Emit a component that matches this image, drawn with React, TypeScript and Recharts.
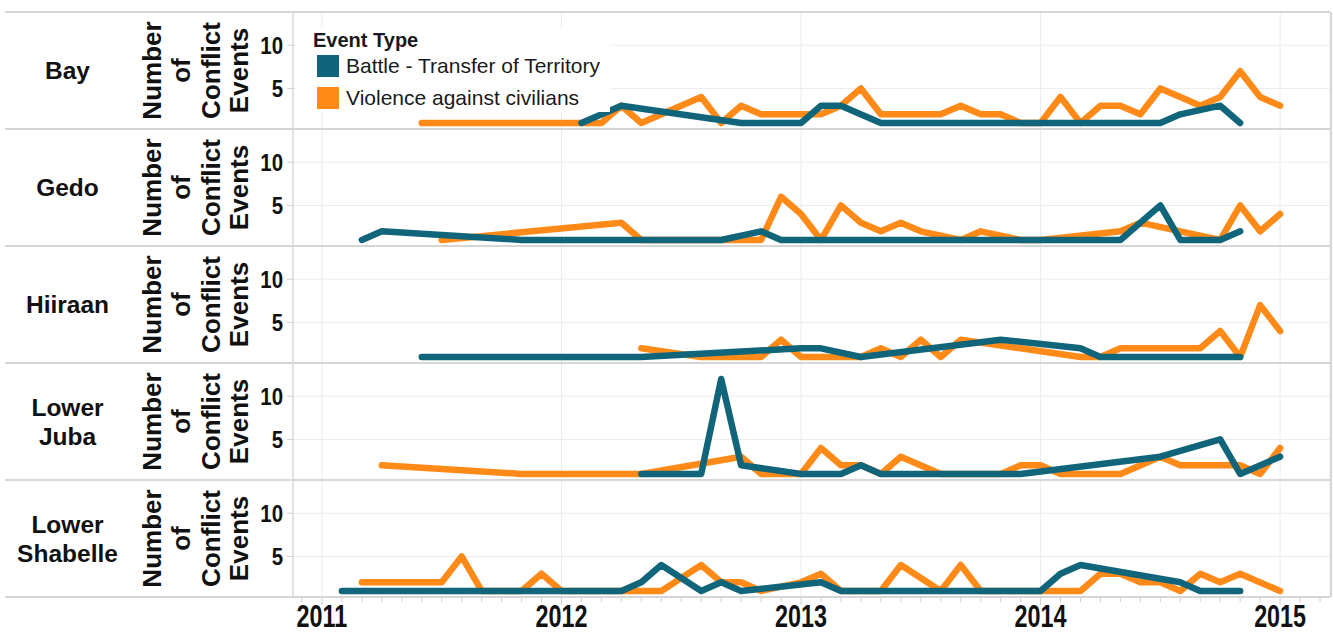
import React from 'react';
import { LineChart, Line, XAxis, YAxis, CartesianGrid } from 'recharts';

type Pt = [number, number];

// x = month index counted from Jan 2011 (0 = Jan 2011, 12 = Jan 2012 ...), y = number of events
const regions = ['Bay', 'Gedo', 'Hiiraan', 'Lower Juba', 'Lower Shabelle'];
const seriesNames = ['Battle - Transfer of Territory', 'Violence against civilians'];
const yearTicks = [0, 12, 24, 36, 48];
const yearLabels = ['2011', '2012', '2013', '2014', '2015'];
const monthTicks = Array.from({ length: 52 }, (_, i) => i - 1);
const countTicks = [5, 10];

const bayBattle: Pt[] = [
  [13, 1], [15, 3], [21, 1], [22, 1], [23, 1], [24, 1], [25, 3], [26, 3], [28, 1], [30, 1],
  [32, 1], [34, 1], [36, 1], [38, 1], [40, 1], [42, 1], [43, 2], [45, 3], [46, 1],
];
const bayViolence: Pt[] = [
  [5, 1], [7, 1], [9, 1], [11, 1], [13, 1], [14, 1], [15, 3], [16, 1], [19, 4], [20, 1],
  [21, 3], [22, 2], [23, 2], [24, 2], [25, 2], [26, 3], [27, 5], [28, 2], [29, 2], [30, 2],
  [31, 2], [32, 3], [33, 2], [34, 2], [35, 1], [36, 1], [37, 4], [38, 1], [39, 3], [40, 3],
  [41, 2], [42, 5], [43, 4], [44, 3], [45, 4], [46, 7], [47, 4], [48, 3],
];

const gedoBattle: Pt[] = [
  [2, 1], [3, 2], [10, 1], [12, 1], [14, 1], [16, 1], [17, 1], [18, 1], [19, 1], [20, 1],
  [22, 2], [23, 1], [24, 1], [26, 1], [28, 1], [30, 1], [32, 1], [34, 1], [36, 1], [38, 1],
  [40, 1], [42, 5], [43, 1], [44, 1], [45, 1], [46, 2],
];
const gedoViolence: Pt[] = [
  [6, 1], [15, 3], [16, 1], [18, 1], [20, 1], [22, 1], [23, 6], [24, 4], [25, 1], [26, 5],
  [27, 3], [28, 2], [29, 3], [30, 2], [32, 1], [33, 2], [35, 1], [36, 1], [40, 2], [41, 3],
  [43, 2], [45, 1], [46, 5], [47, 2], [48, 4],
];

const hiiraanBattle: Pt[] = [
  [5, 1], [6, 1], [8, 1], [10, 1], [12, 1], [14, 1], [16, 1], [24, 2], [25, 2], [27, 1],
  [34, 3], [38, 2], [39, 1], [40, 1], [42, 1], [44, 1], [46, 1],
];
const hiiraanViolence: Pt[] = [
  [16, 2], [19, 1], [20, 1], [22, 1], [23, 3], [24, 1], [25, 1], [27, 1], [28, 2], [29, 1],
  [30, 3], [31, 1], [32, 3], [35, 2], [38, 1], [39, 1], [40, 2], [41, 2], [42, 2], [43, 2],
  [44, 2], [45, 4], [46, 1], [47, 7], [48, 4],
];

const lowerJubaBattle: Pt[] = [
  [16, 1], [17, 1], [18, 1], [19, 1], [20, 12], [21, 2], [24, 1], [25, 1], [26, 1], [27, 2],
  [28, 1], [29, 1], [31, 1], [33, 1], [35, 1], [42, 3], [45, 5], [46, 1], [48, 3],
];
const lowerJubaViolence: Pt[] = [
  [3, 2], [10, 1], [12, 1], [14, 1], [16, 1], [21, 3], [22, 1], [24, 1], [25, 4], [26, 2],
  [27, 2], [28, 1], [29, 3], [31, 1], [32, 1], [34, 1], [35, 2], [36, 2], [37, 1], [38, 1],
  [40, 1], [42, 3], [43, 2], [44, 2], [45, 2], [46, 2], [47, 1], [48, 4],
];

const lowerShabelleBattle: Pt[] = [
  [1, 1], [3, 1], [5, 1], [7, 1], [9, 1], [11, 1], [13, 1], [15, 1], [16, 2], [17, 4],
  [19, 1], [20, 2], [21, 1], [25, 2], [26, 1], [28, 1], [30, 1], [32, 1], [34, 1], [36, 1],
  [37, 3], [38, 4], [43, 2], [44, 1], [45, 1], [46, 1],
];
const lowerShabelleViolence: Pt[] = [
  [2, 2], [4, 2], [6, 2], [7, 5], [8, 1], [10, 1], [11, 3], [12, 1], [14, 1], [17, 1],
  [19, 4], [20, 2], [21, 2], [22, 1], [24, 2], [25, 3], [26, 1], [28, 1], [29, 4], [31, 1],
  [32, 4], [33, 1], [35, 1], [38, 1], [39, 3], [40, 3], [41, 2], [42, 2], [43, 1], [44, 3],
  [45, 2], [46, 3], [48, 1],
];

const battleByRegion = [bayBattle, gedoBattle, hiiraanBattle, lowerJubaBattle, lowerShabelleBattle];
const violenceByRegion = [bayViolence, gedoViolence, hiiraanViolence, lowerJubaViolence, lowerShabelleViolence];

const TEAL = '#11657a';
const ORANGE = '#ff8a17';
const FONT = '"Liberation Sans", Arial, sans-serif';
const TOP = 12;
const PANEL_H = 117;
const AXIS_H = 38;
const SEP = '#d6d6d6';

const toRows = (pts: Pt[]) => pts.map(([m, v]) => ({ m, v }));

const CountTick = (props: any) => {
  const { x, y, payload } = props;
  return (
    <text
      transform={`translate(${x},${y + 1}) scale(0.85,1)`}
      textAnchor="end"
      dominantBaseline="central"
      fontSize={24}
      fontWeight="bold"
      fontFamily={FONT}
      fill="#111"
    >
      {payload.value}
    </text>
  );
};

const MonthTick = (props: any) => {
  const { x, y, payload } = props;
  const idx = yearTicks.indexOf(payload.value);
  const isYear = idx >= 0;
  return (
    <g>
      <line x1={x} x2={x} y1={y} y2={y + (isYear ? 8 : 5)} stroke="#cfcfcf" />
      {isYear && (
        <text
          transform={`translate(${x},${y + 30}) scale(0.73,1)`}
          textAnchor="middle"
          fontSize={32}
          fontWeight="bold"
          fontFamily={FONT}
          fill="#111"
        >
          {yearLabels[idx]}
        </text>
      )}
    </g>
  );
};

const Panel = ({ index }: { index: number }) => {
  const last = index === regions.length - 1;
  return (
    <LineChart
      width={1072}
      height={PANEL_H + (last ? AXIS_H : 0)}
      margin={{ top: 0, right: 2, bottom: 0, left: 0 }}
    >
      <CartesianGrid stroke="#ececec" />
      <XAxis
        dataKey="m"
        type="number"
        domain={[-1.45, 50.5]}
        allowDataOverflow
        ticks={yearTicks}
        height={0}
        hide
      />
      {last && (
        <XAxis
          xAxisId="months"
          dataKey="m"
          type="number"
          domain={[-1.45, 50.5]}
          allowDataOverflow
          ticks={monthTicks}
          interval={0}
          height={AXIS_H}
          tickSize={0}
          tickMargin={0}
          tickLine={false}
          axisLine={false}
          tick={<MonthTick />}
        />
      )}
      <YAxis
        type="number"
        domain={[0.3, 13.85]}
        allowDataOverflow
        ticks={countTicks}
        width={33}
        tickSize={6}
        tickMargin={4}
        axisLine={{ stroke: '#d0d0d0' }}
        tickLine={{ stroke: '#d0d0d0' }}
        tick={<CountTick />}
      />
      <Line
        data={toRows(violenceByRegion[index])}
        dataKey="v"
        type="linear"
        stroke={ORANGE}
        strokeWidth={6.5}
        strokeLinecap="round"
        strokeLinejoin="round"
        dot={false}
        activeDot={false}
        isAnimationActive={false}
      />
      <Line
        data={toRows(battleByRegion[index])}
        dataKey="v"
        type="linear"
        stroke={TEAL}
        strokeWidth={6.5}
        strokeLinecap="round"
        strokeLinejoin="round"
        dot={false}
        activeDot={false}
        isAnimationActive={false}
      />
    </LineChart>
  );
};

const titleLines = ['Number', 'of', 'Conflict', 'Events'];
const titleBaselines = [161, 190, 220, 248];

export default function App() {
  return (
    <div
      style={{
        position: 'absolute',
        left: 0,
        top: 0,
        width: 1333,
        height: 635,
        background: '#fff',
        fontFamily: FONT,
        overflow: 'hidden',
      }}
    >
      {regions.map((name, i) => {
        const top = TOP + i * PANEL_H;
        return (
          <React.Fragment key={name}>
            <div
              style={{
                position: 'absolute',
                left: 0,
                top,
                width: 135,
                height: PANEL_H,
                display: 'flex',
                alignItems: 'center',
                justifyContent: 'center',
                textAlign: 'center',
                fontWeight: 'bold',
                fontSize: 24.5,
                lineHeight: '29px',
                color: '#111',
              }}
            >
              {name.split(' ').map((w) => (
                <React.Fragment key={w}>
                  {w}
                  <br />
                </React.Fragment>
              ))}
            </div>
            <svg
              style={{ position: 'absolute', left: 0, top }}
              width={260}
              height={PANEL_H}
            >
              {titleLines.map((t, j) => (
                <text
                  key={t}
                  transform={`translate(${titleBaselines[j]},${PANEL_H / 2}) rotate(-90)`}
                  textAnchor="middle"
                  fontSize={26}
                  fontWeight="bold"
                  fontFamily={FONT}
                  fill="#111"
                >
                  {t}
                </text>
              ))}
            </svg>
            <div style={{ position: 'absolute', left: 260, top }}>
              <Panel index={i} />
            </div>
          </React.Fragment>
        );
      })}

      {Array.from({ length: regions.length + 1 }, (_, i) => (
        <div
          key={'sep' + i}
          style={{
            position: 'absolute',
            left: 5,
            top: TOP + i * PANEL_H - 1,
            width: 1325,
            height: 2,
            background: SEP,
          }}
        />
      ))}
      <div
        style={{
          position: 'absolute',
          left: 1330,
          top: TOP,
          width: 2,
          height: PANEL_H * regions.length,
          background: SEP,
        }}
      />

      <div
        style={{
          position: 'absolute',
          left: 297,
          top: 28,
          width: 313,
          height: 84,
          background: '#fff',
          color: '#1a1a1a',
        }}
      >
        <div style={{ position: 'absolute', left: 16, top: 1, fontSize: 20, fontWeight: 'bold', whiteSpace: 'nowrap' }}>
          Event Type
        </div>
        {seriesNames.map((s, k) => (
          <React.Fragment key={s}>
            <div
              style={{
                position: 'absolute',
                left: 20,
                top: 27 + k * 32,
                width: 22,
                height: 22,
                background: k === 0 ? TEAL : ORANGE,
              }}
            />
            <div
              style={{
                position: 'absolute',
                left: 49,
                top: 25 + k * 32,
                fontSize: 21,
                lineHeight: '26px',
                whiteSpace: 'nowrap',
              }}
            >
              {s}
            </div>
          </React.Fragment>
        ))}
      </div>
    </div>
  );
}
